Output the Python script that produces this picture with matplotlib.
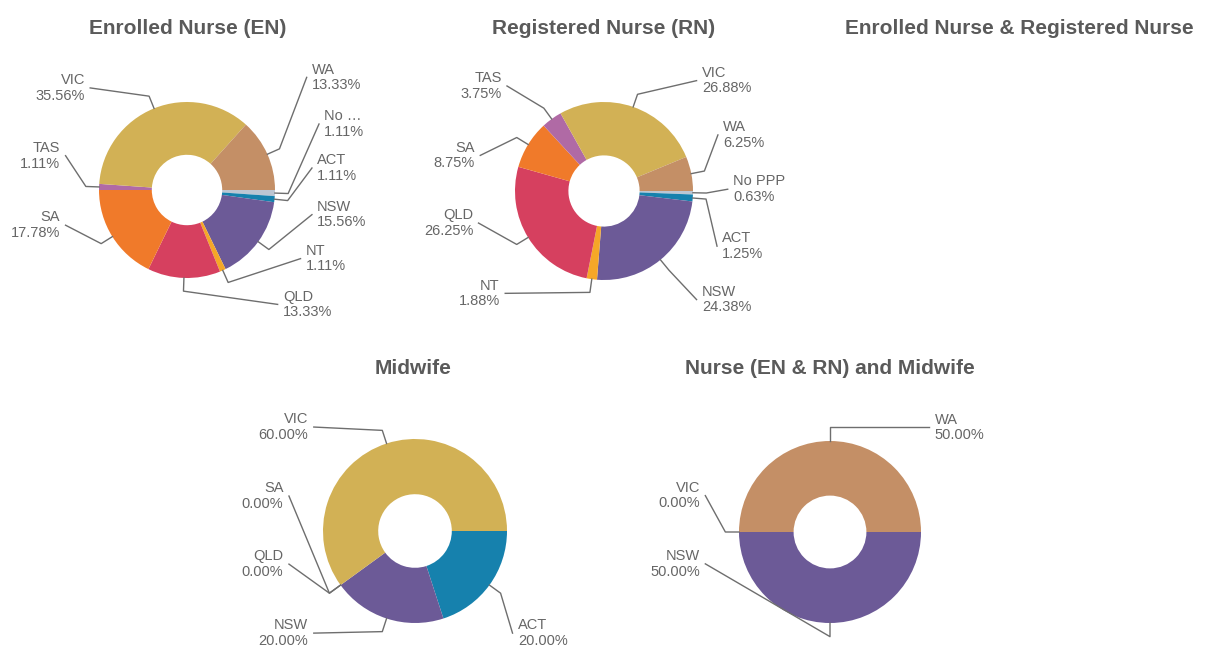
import numpy as np
import matplotlib
matplotlib.use("Agg")
import matplotlib.pyplot as plt

plt.rcParams['font.family'] = ['Liberation Sans', 'DejaVu Sans']

# slices are listed clockwise starting at 3 o'clock
en_labels = ['No …', 'ACT', 'NSW', 'NT', 'QLD', 'SA', 'TAS', 'VIC', 'WA']
en_values = [1.11, 1.11, 15.56, 1.11, 13.33, 17.78, 1.11, 35.56, 13.33]

rn_labels = ['No PPP', 'ACT', 'NSW', 'NT', 'QLD', 'SA', 'TAS', 'VIC', 'WA']
rn_values = [0.63, 1.25, 24.38, 1.88, 26.25, 8.75, 3.75, 26.88, 6.25]

mw_labels = ['ACT', 'NSW', 'QLD', 'SA', 'VIC']
mw_values = [20.00, 20.00, 0.00, 0.00, 60.00]

all_labels = ['NSW', 'VIC', 'WA']
all_values = [50.00, 0.00, 50.00]

colors = {
    'No …': '#bcc6d2', 'No PPP': '#bcc6d2', 'ACT': '#1681ad', 'NSW': '#6c5a97',
    'NT': '#f5a728', 'QLD': '#d6405f', 'SA': '#f07a2a', 'TAS': '#b06aa5',
    'VIC': '#d2b155', 'WA': '#c48f66',
}

TITLE_C = '#5a5a5a'
TEXT_C = '#666666'
LINE_C = '#6e6e6e'
W, H = 1206, 650
L = 2.0  # axes half-width in radius units

fig = plt.figure(figsize=(W / 100, H / 100), dpi=100)

# label positions (radius units, relative to centre) and alignment
en_pos = [(1.56, 0.75, 'left'), (1.48, 0.25, 'left'), (1.48, -0.28, 'left'),
          (1.35, -0.78, 'left'), (1.09, -1.30, 'left'), (-1.44, -0.40, 'right'),
          (-1.44, 0.39, 'right'), (-1.16, 1.16, 'right'), (1.42, 1.28, 'left')]
rn_pos = [(1.45, 0.02, 'left'), (1.33, -0.62, 'left'), (1.10, -1.22, 'left'),
          (-1.17, -1.15, 'right'), (-1.47, -0.36, 'right'), (-1.45, 0.40, 'right'),
          (-1.15, 1.18, 'right'), (1.10, 1.24, 'left'), (1.34, 0.63, 'left')]
mw_pos = [(1.12, -1.11, 'left'), (-1.16, -1.11, 'right'), (-1.43, -0.36, 'right'),
          (-1.43, 0.38, 'right'), (-1.16, 1.13, 'right')]
all_pos = [(-1.43, -0.35, 'right'), (-1.43, 0.40, 'right'), (1.15, 1.15, 'left')]


def donut(cx, cy, r, labels, values, pos):
    s = 2 * L * r
    ax = fig.add_axes([(cx - s / 2) / W, (H - cy - s / 2) / H, s / W, s / H])
    wedges, _ = ax.pie(values, colors=[colors[k] for k in labels], radius=1,
                       startangle=0, counterclock=False,
                       wedgeprops=dict(width=0.6, edgecolor='none', linewidth=0))
    # pie() resets the limits, so set them afterwards
    ax.set_xlim(-L, L)
    ax.set_ylim(-L, L)
    ax.set_aspect('equal', adjustable='box')
    ax.axis('off')
    for w, lab, v, (lx, ly, ha) in zip(wedges, labels, values, pos):
        a = np.deg2rad((w.theta1 + w.theta2) / 2)
        gap = 0.06 if ha == 'left' else -0.06
        xs = [np.cos(a), 1.15 * np.cos(a), lx - gap]
        ys = [np.sin(a), 1.15 * np.sin(a), ly]
        ax.plot(xs, ys, color=LINE_C, lw=1.0, clip_on=False)
        ax.text(lx, ly, f'{lab}\n{v:.2f}%', ha=ha, va='center', fontsize=10.5,
                color=TEXT_C, linespacing=1.15, clip_on=False)
    return ax


def title(x, y, t):
    fig.text(x / W, 1 - y / H, t, ha='center', va='center', fontsize=15,
             fontweight='bold', color=TITLE_C)


donut(187, 190, 88, en_labels, en_values, en_pos)
donut(604, 191, 89, rn_labels, rn_values, rn_pos)
donut(415, 531, 92, mw_labels, mw_values, mw_pos)
donut(830, 532, 91, all_labels, all_values, all_pos)

title(188, 28, 'Enrolled Nurse (EN)')
title(604, 28, 'Registered Nurse (RN)')
title(1019, 29, 'Enrolled Nurse & Registered Nurse')
title(413, 368, 'Midwife')
title(830, 368, 'Nurse (EN & RN) and Midwife')

fig.savefig('out.png', dpi=100)
